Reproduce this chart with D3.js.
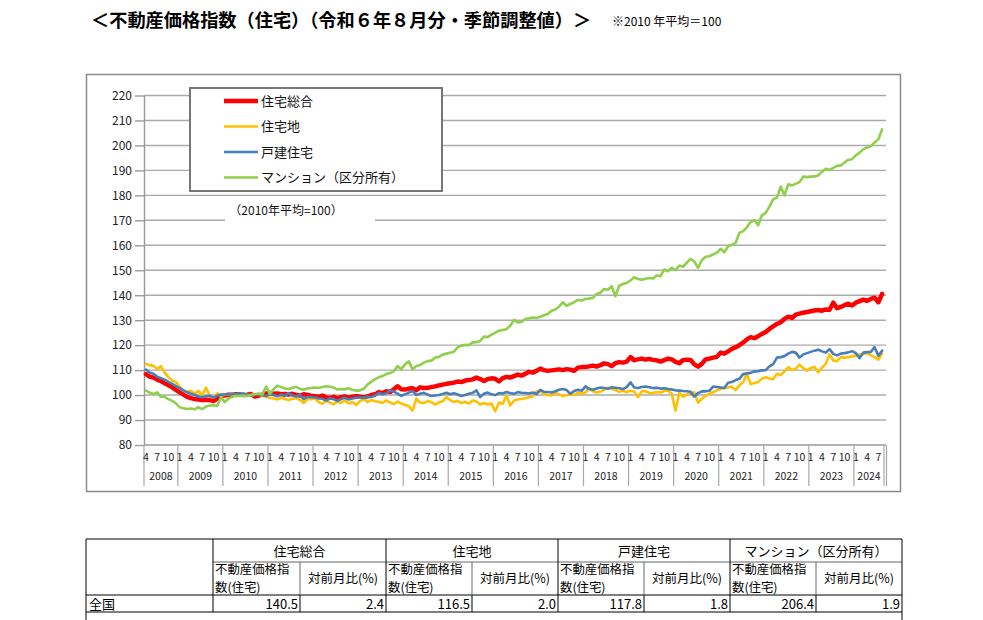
<!DOCTYPE html>
<html><head><meta charset="utf-8">
<script src="https://cdn.jsdelivr.net/npm/d3@7"></script>
<style>
body{margin:0;background:#fff;}
svg{display:block;}
text{font-family:"Noto Sans CJK JP","Liberation Sans",sans-serif;}
</style></head><body>
<svg id="c" width="983" height="620"></svg>
<script>
// ---------- data ----------
const years = [2008,2009,2010,2011,2012,2013,2014,2015,2016,2017,2018,2019,2020,2021,2022,2023,2024];
const startMonth = 4;   // April 2008
const endMonth = 8;     // August 2024
const tickMonths = [1,4,7,10];
const yTicks = [80,90,100,110,120,130,140,150,160,170,180,190,200,210,220];
const seriesNames = ["住宅総合","住宅地","戸建住宅","マンション（区分所有）"];
const seriesColors = ["#FF0000","#FFC000","#4A7EBB","#8FCF4C"];

const sougou = [
108.4,107.4,107.0,106.2,105.6,104.7,103.9,103.1,102.1,
101.1,100.2,99.3,98.8,98.4,98.2,98.0,98.1,98.0,97.6,98.6,99.7,
99.8,100.1,100.0,100.3,100.2,100.0,100.1,100.4,99.4,99.8,100.2,100.6,
100.8,100.5,100.6,100.3,100.4,100.2,100.5,100.1,99.8,100.3,100.0,99.7,
99.5,99.3,99.8,99.0,98.9,99.3,98.8,99.1,99.4,99.0,99.3,99.5,
99.3,99.0,99.5,100.0,100.3,101.2,100.8,101.5,101.2,102.3,103.5,102.3,
102.2,102.6,102.7,101.9,103.1,102.8,102.9,103.2,103.5,103.9,104.2,104.5,
104.7,105.0,105.4,105.2,105.8,106.0,106.3,107.0,106.4,105.6,106.4,106.7,
106.5,105.5,106.8,107.3,107.0,107.6,108.2,107.8,108.5,109.3,109.0,109.7,
110.6,110.0,109.7,109.9,110.1,110.3,110.0,110.4,110.2,109.7,111.0,111.2,
111.2,111.5,111.8,111.4,112.0,112.7,112.4,111.6,112.8,113.2,113.0,113.4,
115.2,114.0,114.3,114.6,114.2,114.5,114.1,113.9,113.4,114.0,114.6,114.3,
113.3,112.8,114.0,114.2,114.1,112.3,111.4,112.5,114.3,114.6,115.0,115.3,
117.0,116.6,117.5,118.5,119.2,120.0,121.0,122.3,123.2,122.8,123.6,124.5,
125.3,126.5,127.5,128.5,129.2,130.5,131.4,130.9,132.2,132.6,133.0,133.3,
133.6,133.9,134.1,133.8,134.3,134.2,137.0,134.8,135.3,136.0,136.6,135.9,
137.0,137.6,138.2,137.8,138.5,139.0,137.2,140.5];

const jutakuchi = [
112.4,112.0,111.7,110.4,111.6,109.0,107.2,105.8,105.2,
103.4,101.8,101.2,101.7,100.5,101.7,99.8,103.0,99.7,99.0,100.7,99.7,
100.1,100.3,100.4,99.8,100.1,100.4,100.0,99.7,100.2,100.4,99.6,99.3,
98.9,98.6,98.2,98.9,98.4,98.0,98.5,98.7,98.1,96.8,98.4,98.3,
98.6,97.2,96.5,97.8,97.0,96.3,97.5,96.8,97.9,96.6,97.2,96.0,
97.6,98.4,97.2,98.0,97.5,97.3,96.8,97.9,97.0,96.4,97.4,96.6,
96.0,95.6,93.8,98.6,97.0,96.8,97.6,97.2,96.2,97.0,97.5,99.2,
98.0,97.2,97.7,96.8,97.2,96.6,97.8,97.4,96.2,96.8,96.2,96.6,
93.5,97.0,96.5,99.8,95.8,97.8,98.2,98.4,98.7,99.1,99.4,101.5,
101.6,100.4,100.0,99.8,101.0,100.3,99.6,99.9,100.2,100.0,101.0,100.5,
101.0,102.8,101.5,101.0,101.4,102.2,103.0,102.4,102.0,101.3,101.7,101.2,
101.7,101.4,99.2,101.6,101.5,100.9,100.8,101.2,101.0,101.6,101.8,100.5,
93.8,101.0,99.3,100.2,100.6,101.1,97.0,98.4,99.7,100.5,101.1,101.9,
102.4,102.8,103.0,103.4,102.0,103.9,105.1,108.6,104.4,104.8,105.2,106.6,
107.1,106.6,106.4,108.5,108.0,109.5,111.2,110.0,110.5,112.2,110.8,109.8,
110.9,111.2,109.1,111.0,112.5,116.3,113.8,113.6,115.2,115.0,115.2,115.5,
115.9,116.2,116.5,116.8,116.0,115.2,114.2,116.5];

const kodate = [
110.2,109.0,108.5,107.4,106.8,106.2,105.3,104.5,103.6,
102.8,101.9,101.1,100.5,100.0,99.4,99.1,99.5,99.7,99.0,99.8,100.1,
100.2,100.4,100.5,100.2,100.7,100.5,100.2,99.8,100.1,100.3,99.9,99.6,
100.4,100.0,99.5,100.2,99.6,100.8,99.8,99.4,100.2,98.4,99.3,99.1,
99.0,98.6,98.5,97.8,98.7,98.3,97.7,98.4,98.9,98.2,98.6,98.9,
99.0,98.8,99.3,99.2,99.8,100.8,100.3,100.6,101.8,101.4,100.6,99.7,
100.3,101.0,101.6,100.0,100.5,100.9,100.2,99.6,99.8,100.0,100.4,100.9,
100.3,100.7,100.2,99.6,100.0,100.5,100.9,101.9,99.2,100.5,101.0,100.3,
100.0,100.8,100.6,101.2,100.8,100.5,101.2,100.9,100.8,100.6,101.0,100.4,
102.1,101.3,101.2,101.0,101.5,102.1,102.4,102.0,100.5,101.6,102.1,101.7,
103.5,102.4,102.1,102.6,103.0,102.8,102.5,103.1,102.9,102.7,102.4,103.2,
105.1,103.0,102.8,103.2,103.4,103.1,102.8,102.9,102.6,102.7,102.4,102.2,
101.9,101.8,101.6,101.5,101.3,99.4,100.8,101.5,101.5,101.7,103.4,103.2,
103.0,102.8,104.9,105.2,106.0,106.5,108.4,108.7,108.9,109.5,109.6,109.9,
110.0,111.5,112.4,115.0,115.2,115.6,116.6,117.3,117.0,115.0,116.3,116.8,
117.3,117.8,118.2,117.5,117.0,118.4,116.5,115.9,116.6,116.8,117.1,117.6,
116.8,114.8,117.0,117.2,117.3,119.2,115.7,117.8];

const mansion = [
101.8,101.0,100.4,101.1,99.3,99.3,98.4,97.7,96.7,
95.1,94.7,94.4,94.6,94.3,95.2,94.4,95.4,95.8,95.9,95.7,99.1,
97.2,98.6,99.3,99.7,99.5,99.8,99.6,100.1,100.3,100.6,100.2,103.4,
100.5,102.4,103.8,103.2,102.6,102.4,102.9,103.3,102.5,102.1,102.6,102.8,
103.0,102.8,103.2,103.5,103.3,103.0,102.2,102.4,102.3,102.8,102.0,101.8,
101.9,102.5,104.2,105.3,106.4,107.1,107.6,108.4,108.8,109.5,111.6,110.4,
112.3,113.5,110.3,111.6,112.0,113.0,113.6,113.8,115.0,115.3,116.2,116.6,
117.0,117.4,119.1,119.8,120.1,120.0,121.1,121.2,121.7,123.4,123.2,124.2,
125.0,125.8,126.1,126.4,127.8,130.1,129.1,129.3,130.5,130.8,131.1,130.9,
131.4,132.0,132.5,133.8,134.3,135.4,137.2,135.8,136.5,137.2,138.1,137.9,
138.5,138.7,138.9,140.5,141.0,142.5,142.2,143.6,139.6,143.8,144.5,144.9,
145.9,147.2,146.5,146.2,146.6,146.9,146.7,147.9,147.6,150.3,149.6,151.0,
150.0,151.9,151.4,153.0,154.6,153.5,151.0,154.0,155.4,155.6,156.3,157.0,
158.6,157.2,159.6,160.2,161.0,165.0,165.7,167.2,169.3,170.1,168.0,172.0,
173.0,175.5,178.4,179.1,183.5,180.0,184.4,184.0,184.6,185.3,187.5,187.3,
187.5,187.6,188.0,189.5,190.7,190.2,191.0,191.8,192.0,193.2,194.2,194.5,
196.0,197.1,198.5,199.2,199.8,201.2,202.5,206.4];

const tableGroups = ["住宅総合","住宅地","戸建住宅","マンション（区分所有）"];
const tableRegion = ["全国"];
const tableIndex = [140.5,116.5,117.8,206.4];
const tableChange = [2.4,2.0,1.8,1.9];

// ---------- categories ----------
const cats = [];
years.forEach(y => {
  const m0 = y === years[0] ? startMonth : 1;
  const m1 = y === years[years.length-1] ? endMonth : 12;
  for (let m = m0; m <= m1; m++) cats.push({y, m});
});
const allSeries = [sougou, jutakuchi, kodate, mansion];

const svg = d3.select("#c");

// title
svg.append("text").attr("x", 91).attr("y", 27)
  .attr("font-size", 18.2).attr("font-weight", "bold").attr("fill", "#000")
  .text("＜不動産価格指数（住宅）（令和６年８月分・季節調整値）＞");
svg.append("text").attr("x", 612).attr("y", 26)
  .attr("font-size", 12).attr("fill", "#000")
  .text("※2010 年平均＝100");

// chart frame
svg.append("rect").attr("x", 86.5).attr("y", 74.5).attr("width", 814).attr("height", 417)
  .attr("fill", "#fff").attr("stroke", "#8a8a8a").attr("stroke-width", 1.5);

const x = d3.scaleBand().domain(d3.range(cats.length)).range([144, 884]).paddingInner(0).paddingOuter(0);
const y = d3.scaleLinear().domain([80, 220]).range([445, 95.5]);
const cx = i => x(i) + x.bandwidth() / 2;

// gridlines + y axis
const gy = svg.append("g");
gy.selectAll("line.grid").data(yTicks.filter(t => t > 80)).join("line")
  .attr("x1", 144).attr("x2", 886).attr("y1", d => y(d)).attr("y2", d => y(d))
  .attr("stroke", "#ababab").attr("stroke-width", 1.4);
const yAxis = d3.axisLeft(y).tickValues(yTicks).tickSize(9).tickSizeOuter(0).tickPadding(3);
const ya = svg.append("g").attr("transform", "translate(144,0)").call(yAxis);
ya.select(".domain").attr("stroke", "#9a9a9a").attr("stroke-width", 1.4);
ya.selectAll(".tick line").attr("stroke", "#9a9a9a").attr("stroke-width", 1.4);
ya.selectAll(".tick text").attr("font-family", "Liberation Sans, Arial, sans-serif")
  .attr("font-size", 12).attr("fill", "#222");

// x axis base
svg.append("line").attr("x1", 144).attr("x2", 886).attr("y1", y(80)).attr("y2", y(80))
  .attr("stroke", "#9a9a9a").attr("stroke-width", 1.4);

// year separators
const yearStarts = years.map(yr => cats.findIndex(c => c.y === yr));
const sepX = yearStarts.map(i => x(i)).concat([884, 886.5]);
svg.append("g").selectAll("line").data(sepX).join("line")
  .attr("x1", d => d).attr("x2", d => d).attr("y1", y(80)).attr("y2", 486)
  .attr("stroke", "#a8a8a8").attr("stroke-width", 1.2);

// month labels
svg.append("g").selectAll("text").data(cats.map((c, i) => ({c, i})).filter(d => tickMonths.includes(d.c.m)))
  .join("text").attr("x", d => cx(d.i)).attr("y", 461).attr("text-anchor", "middle")
  .attr("font-family", "Liberation Sans Narrow, Arial Narrow, Liberation Sans, sans-serif")
  .attr("font-size", 10.5).attr("fill", "#222").text(d => d.c.m);
// year labels
svg.append("g").selectAll("text").data(years).join("text")
  .attr("x", (d, k) => {
    const s = x(yearStarts[k]);
    const e = k + 1 < years.length ? x(yearStarts[k + 1]) : 884;
    return (s + e) / 2;
  })
  .attr("y", 480).attr("text-anchor", "middle")
  .attr("font-family", "Liberation Sans, Arial, sans-serif")
  .attr("font-size", 10.5).attr("fill", "#222").text(d => d);

// lines
const line = d3.line().x((d, i) => cx(i)).y(d => y(d));
const widths = [4.5, 2.6, 2.6, 2.6];
allSeries.forEach((s, k) => {
  svg.append("path").datum(s).attr("d", line).attr("fill", "none")
    .attr("stroke", seriesColors[k]).attr("stroke-width", widths[k])
    .attr("stroke-linejoin", "round").attr("stroke-linecap", "round");
});

// legend
const lg = svg.append("g");
lg.append("rect").attr("x", 190).attr("y", 88).attr("width", 252).attr("height", 103)
  .attr("fill", "#fff").attr("stroke", "#777").attr("stroke-width", 2);
seriesNames.forEach((n, k) => {
  const ly = 101 + k * 25.5;
  lg.append("line").attr("x1", 224).attr("x2", 258).attr("y1", ly).attr("y2", ly)
    .attr("stroke", seriesColors[k]).attr("stroke-width", widths[k]);
  lg.append("text").attr("x", 261).attr("y", ly).attr("dy", "0.35em")
    .attr("font-size", 13).attr("fill", "#111").text(n);
});

// base note
svg.append("rect").attr("x", 225).attr("y", 199).attr("width", 150).attr("height", 24).attr("fill", "#fff");
svg.append("text").attr("x", 286).attr("y", 211).attr("dy", "0.35em").attr("text-anchor", "middle")
  .attr("font-size", 12).attr("fill", "#111").text("（2010年平均=100）");

// ---------- table ----------
const tg = svg.append("g");
const colX = [86, 213, 300, 386, 472, 558, 644, 730, 816, 902];
const rowY = [539, 562, 595, 612];
const blk = "#000";
tg.append("line").attr("x1", 86).attr("x2", 902).attr("y1", rowY[0]).attr("y2", rowY[0]).attr("stroke", blk);
tg.append("line").attr("x1", 86).attr("x2", 902).attr("y1", rowY[2]).attr("y2", rowY[2]).attr("stroke", blk);
tg.append("line").attr("x1", 86).attr("x2", 902).attr("y1", rowY[3]).attr("y2", rowY[3]).attr("stroke", blk);
tg.append("line").attr("x1", 213).attr("x2", 902).attr("y1", rowY[1]).attr("y2", rowY[1]).attr("stroke", "#666");
[86, 902].forEach(v => tg.append("line").attr("x1", v).attr("x2", v).attr("y1", rowY[0]).attr("y2", 620).attr("stroke", blk));
[213, 386, 558, 730].forEach(v => tg.append("line").attr("x1", v).attr("x2", v).attr("y1", rowY[0]).attr("y2", rowY[3]).attr("stroke", blk));
[300, 472, 644, 816].forEach(v => {
  tg.append("line").attr("x1", v).attr("x2", v).attr("y1", rowY[1]).attr("y2", rowY[2]).attr("stroke", "#666");
  tg.append("line").attr("x1", v).attr("x2", v).attr("y1", rowY[2]).attr("y2", rowY[3]).attr("stroke", blk);
});
tableGroups.forEach((g, k) => {
  const x0 = colX[1 + 2 * k], x2 = colX[3 + 2 * k], x1 = colX[2 + 2 * k];
  tg.append("text").attr("x", (x0 + x2) / 2).attr("y", 551).attr("dy", "0.35em").attr("text-anchor", "middle")
    .attr("font-size", 13).attr("fill", "#000").text(g);
  tg.append("text").attr("x", x0 + 2).attr("y", 569.5).attr("dy", "0.35em")
    .attr("font-size", 12.4).attr("fill", "#000").text("不動産価格指");
  tg.append("text").attr("x", x0 + 2).attr("y", 587.5).attr("dy", "0.35em")
    .attr("font-size", 12.4).attr("fill", "#000").text("数(住宅)");
  tg.append("text").attr("x", (x1 + x2) / 2).attr("y", 579).attr("dy", "0.35em").attr("text-anchor", "middle")
    .attr("font-size", 12.5).attr("fill", "#000").text("対前月比(%)");
  tg.append("text").attr("x", x1 - 2).attr("y", 604).attr("dy", "0.35em").attr("text-anchor", "end")
    .attr("font-family", "Liberation Sans Narrow, Liberation Sans, sans-serif")
    .attr("font-size", 13).attr("fill", "#000").text(tableIndex[k].toFixed(1));
  tg.append("text").attr("x", x2 - 2).attr("y", 604).attr("dy", "0.35em").attr("text-anchor", "end")
    .attr("font-family", "Liberation Sans Narrow, Liberation Sans, sans-serif")
    .attr("font-size", 13).attr("fill", "#000").text(tableChange[k].toFixed(1));
});
tg.append("text").attr("x", 89).attr("y", 604).attr("dy", "0.35em")
  .attr("font-size", 13).attr("fill", "#000").text(tableRegion[0]);
</script>
</body></html>
